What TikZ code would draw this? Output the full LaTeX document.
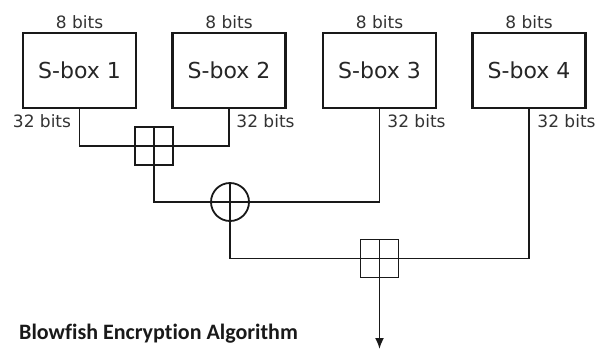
\documentclass[tikz,border=0pt]{standalone}
\usepackage{fontspec}
\setmainfont{DejaVu Sans}
\newfontfamily\titlefont[RawFeature={-liga;-dlig}]{Carlito}
\usetikzlibrary{arrows.meta}
\begin{document}
\begin{tikzpicture}[x=1pt,y=-1pt,
  sbox/.style={draw=black!90,line width=2.2pt,minimum width=113pt,minimum height=75pt,inner sep=0pt,font=\fontsize{22}{24}\selectfont,text=black!85},
  lbl/.style={inner sep=0pt,font=\fontsize{17}{19}\selectfont,text=black!80},
  wire/.style={line width=1.8pt,draw=black!90},
  addbox/.style={draw=black!90,line width=1.8pt,minimum width=38pt,minimum height=38pt,inner sep=0pt,
    path picture={\draw[line width=1.8pt] (path picture bounding box.north) -- (path picture bounding box.south)
      (path picture bounding box.west) -- (path picture bounding box.east);}},
  xorc/.style={draw=black!90,line width=1.8pt,circle,minimum size=38pt,inner sep=0pt,
    path picture={\draw[line width=1.8pt] (path picture bounding box.north) -- (path picture bounding box.south)
      (path picture bounding box.west) -- (path picture bounding box.east);}}
]
\useasboundingbox (0,0) rectangle (599,349);
\node[sbox] (s1) at (79.5,70.5) {S-box 1};
\node[sbox] (s2) at (229,70.5) {S-box 2};
\node[sbox] (s3) at (379.5,70.5) {S-box 3};
\node[sbox] (s4) at (529,70.5) {S-box 4};
\node[lbl] (t1) at (79.5,22) {8 bits};
\node[lbl] (t2) at (229,22) {8 bits};
\node[lbl] (t3) at (379.5,22) {8 bits};
\node[lbl] (t4) at (529,22) {8 bits};
\node[lbl] (b1) at (42,121) {32 bits};
\node[lbl] (b2) at (265.5,121) {32 bits};
\node[lbl] (b3) at (416.5,121) {32 bits};
\node[lbl] (b4) at (566.5,121) {32 bits};
\node[addbox] (p1) at (154,146) {};
\node[xorc] (x1) at (230,202) {};
\node[addbox] (p2) at (379.5,258.5) {};
\coordinate (out) at (379.5,349);
\draw[wire] (s1.south) |- (p1.west);
\draw[wire] (s2.south) |- (p1.east);
\draw[wire] (p1.south) |- (x1.west);
\draw[wire] (s3.south) |- (x1.east);
\draw[wire] (x1.south) |- (p2.west);
\draw[wire] (s4.south) |- (p2.east);
\draw[wire,-{Latex[length=11pt,width=9pt]}] (p2.south) -- (out);
\node[inner sep=0pt,font=\titlefont\bfseries\fontsize{22}{24}\selectfont,text=black!90] (title) at (158.5,334) {Blowfish Encryption Algorithm};
\end{tikzpicture}
\end{document}
